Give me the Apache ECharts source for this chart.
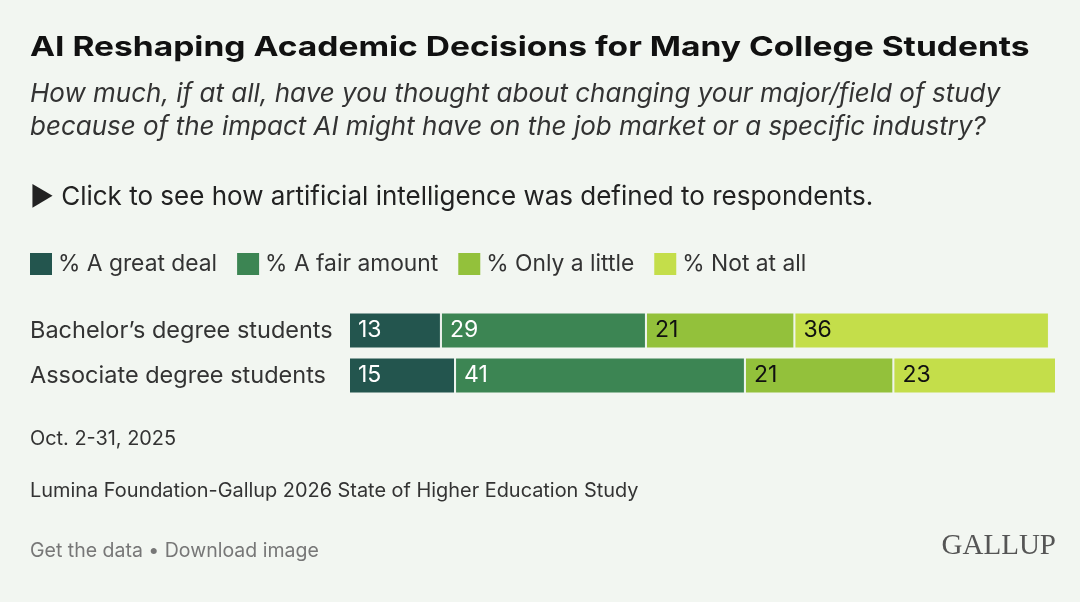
<!DOCTYPE html>
<html>
<head>
<meta charset="utf-8">
<script src="https://cdn.jsdelivr.net/npm/echarts@6/dist/echarts.min.js"></script>
<style>
  html, body { margin: 0; padding: 0; background: #f2f6f1; }
  #chart { width: 1080px; height: 602px; }
</style>
</head>
<body>
<div id="chart"></div>
<script>
// data
var groups = ['Bachelor’s degree students', 'Associate degree students']
var seriesNames = ['% A great deal', '% A fair amount', '% Only a little', '% Not at all']
var greatDeal = [13, 15]
var fairAmount = [29, 41]
var onlyLittle = [21, 21]
var notAtAll = [36, 23]
var colors = ['#23554e', '#3c8553', '#93c13b', '#c4de4a']
var labelColors = ['#fff', '#fff', '#111', '#111']

var values = [greatDeal, fairAmount, onlyLittle, notAtAll]
var font = 'Inter, "Noto Sans", sans-serif'

var myChart = echarts.init(document.getElementById('chart'))

var series = []
for (var i in seriesNames) {
    series.push({
        name: seriesNames[i],
        type: 'bar',
        stack: 'all',
        barWidth: 36,
        data: values[i],
        itemStyle: {
            color: colors[i],
            borderColor: '#f2f6f1',
            borderWidth: 1
        },
        label: {
            show: true,
            position: 'insideLeft',
            distance: 9,
            color: labelColors[i],
            fontFamily: font,
            fontSize: 23
        }
    })
}

myChart.setOption({
    backgroundColor: '#f2f6f1',
    animation: false,
    textStyle: { fontFamily: font },
    legend: {
        left: 28,
        top: 251,
        padding: 0,
        itemWidth: 24,
        itemHeight: 24,
        itemGap: 18,
        icon: 'rect',
        textStyle: { fontSize: 22.8, color: '#333', fontFamily: font },
        data: seriesNames
    },
    grid: {
        left: 349,
        right: 24,
        top: 308,
        height: 90,
        containLabel: false
    },
    xAxis: {
        type: 'value',
        min: 0,
        max: 100,
        show: false
    },
    yAxis: {
        type: 'category',
        data: groups,
        inverse: true,
        axisLine: { show: false },
        axisTick: { show: false },
        axisLabel: {
            align: 'left',
            margin: 319,
            fontSize: 23.5,
            color: '#333',
            fontFamily: font,
            padding: [0, 0, 3, 0]
        }
    },
    graphic: [
        // the title font is wider than Inter, so stretch it sideways
        { type: 'text', left: 30, top: 34, scaleX: 1.22, style: { text: 'AI Reshaping Academic Decisions for Many College Students', font: 'bold 27.5px ' + font, fill: '#111' } },
        { type: 'text', left: 30, top: 81, style: { text: 'How much, if at all, have you thought about changing your major/field of study', font: 'italic 26px ' + font, fill: '#333' } },
        { type: 'text', left: 30, top: 114, style: { text: 'because of the impact AI might have on the job market or a specific industry?', font: 'italic 26px ' + font, fill: '#333' } },
        { type: 'text', left: 30, top: 184, style: { text: '▶ Click to see how artificial intelligence was defined to respondents.', font: '26px ' + font, fill: '#222' } },
        { type: 'text', left: 30, top: 429, style: { text: 'Oct. 2-31, 2025', font: '19.9px ' + font, fill: '#333' } },
        { type: 'text', left: 30, top: 481, style: { text: 'Lumina Foundation-Gallup 2026 State of Higher Education Study', font: '19.9px ' + font, fill: '#333' } },
        { type: 'text', left: 30, top: 541, style: { text: 'Get the data • Download image', font: '19.5px ' + font, fill: '#777' } },
        { type: 'text', right: 24, top: 532, style: { text: 'GALLUP', font: '29px "Liberation Serif", "DejaVu Serif", serif', fill: '#555' } }
    ],
    series: series
})
</script>
</body>
</html>
